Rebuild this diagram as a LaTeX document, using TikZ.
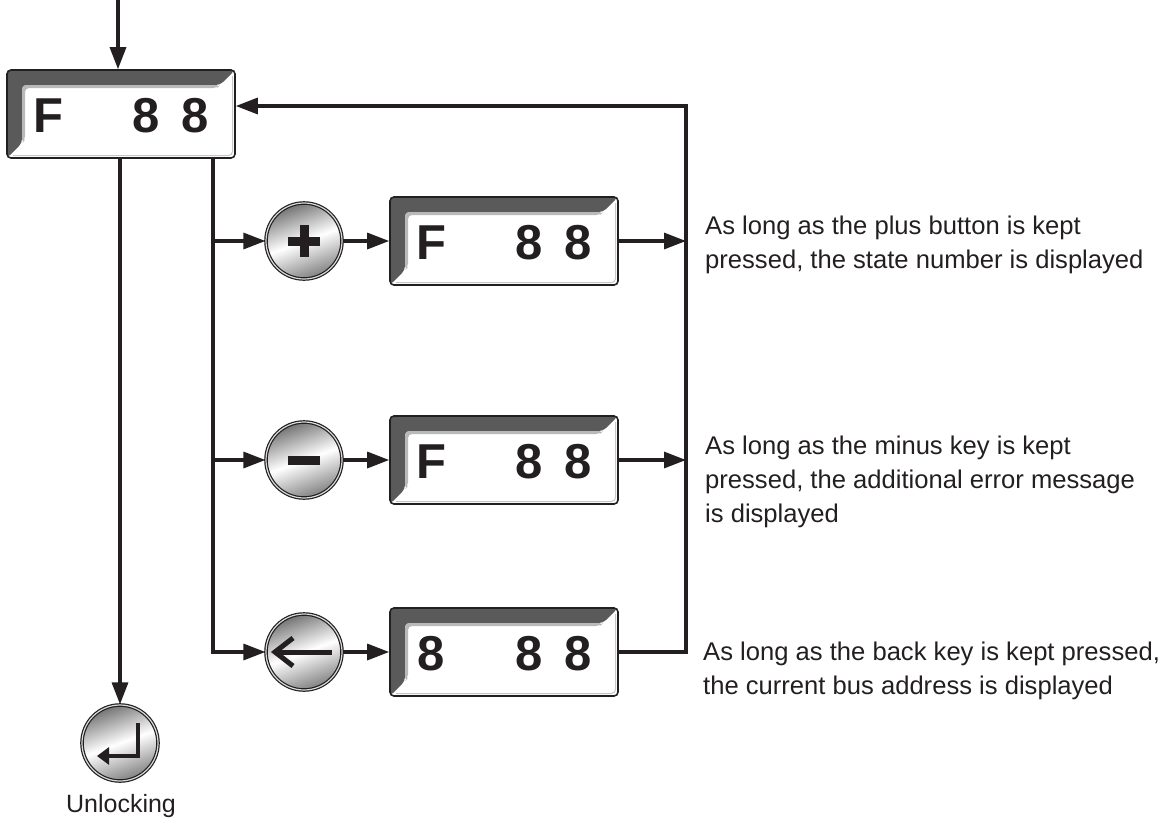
\documentclass[tikz,border=0pt]{standalone}
\usepackage{fontspec}
\setmainfont{Liberation Sans}
\usetikzlibrary{arrows.meta,calc}
\definecolor{ink}{HTML}{231F20}
\definecolor{bevel}{HTML}{5A5A5A}
\tikzset{
  conn/.style={line width=3.2pt, draw=ink, line join=miter},
  arr/.style={conn, -{Triangle[length=22pt,width=16pt]}},
  lbl/.style={font=\fontsize{25.6}{34}\selectfont, align=left, inner sep=0pt, text=ink},
  digit/.style={font=\fontsize{49}{49}\selectfont\bfseries, inner sep=0pt, anchor=base, text=ink},
  display/.style={rectangle, minimum width=228pt, minimum height=88pt, inner sep=0pt,
    rounded corners=4pt, fill=white, draw=ink, line width=1.6pt,
    path picture={
      \fill[bevel] (path picture bounding box.north west) -- (path picture bounding box.north east)
        -- ++(-15pt,-15pt) -- ($(path picture bounding box.north west)+(15pt,-15pt)$)
        -- ($(path picture bounding box.south west)+(15pt,15pt)$) -- (path picture bounding box.south west) -- cycle;
      \fill[gray!55] ($(path picture bounding box.north east)+(-15pt,-15pt)$) -- ++(-3pt,-3pt)
        -- ($(path picture bounding box.north west)+(18pt,-18pt)$)
        -- ($(path picture bounding box.south west)+(18pt,18pt)$) -- ++(-3pt,-3pt)
        -- ($(path picture bounding box.north west)+(15pt,-15pt)$) -- cycle;
      \draw[gray!45, line width=1pt] ($(path picture bounding box.north east)+(-2.5pt,-6pt)$)
        -- ($(path picture bounding box.south east)+(-2.5pt,2.5pt)$) -- ($(path picture bounding box.south west)+(6pt,2.5pt)$);
    }},
  button/.style={circle, minimum size=76pt, inner sep=0pt,
    shading=axis, top color=black!55, bottom color=black!50, middle color=white, shading angle=20,
    draw=ink, line width=1.2pt, double=gray!30, double distance=1.2pt},
}
\newcommand\lcdbox[4]{% name, x, y, first char
  \node[display] (#1) at (#2,#3) {};
  \node[digit] (#1-a) at ($(#1.center)+(-73pt,-18pt)$) {#4};
  \node[digit] (#1-b) at ($(#1.center)+(25.5pt,-18pt)$) {8};
  \node[digit] (#1-c) at ($(#1.center)+(74pt,-18pt)$) {8};
}
\begin{document}
\begin{tikzpicture}[x=1pt,y=-1pt]
\useasboundingbox (0,0) rectangle (1171,823);

% displays
\lcdbox{top}{121}{114}{F}
\lcdbox{dplus}{504}{241}{F}
\lcdbox{dminus}{504}{460}{F}
\lcdbox{dback}{504}{652}{8}

% buttons
\node[button] (kplus) at (304,241) {};
\draw[ink, line width=9pt] ($(kplus.center)+(-16pt,0)$) -- ($(kplus.center)+(16pt,0)$);
\draw[ink, line width=9pt] ($(kplus.center)+(0,-16pt)$) -- ($(kplus.center)+(0,16pt)$);

\node[button] (kminus) at (304,460) {};
\draw[ink, line width=9pt] ($(kminus.center)+(-16pt,0)$) -- ($(kminus.center)+(16pt,0)$);

\node[button] (kback) at (304,652) {};
\draw[ink, line width=5pt] ($(kback.center)+(28pt,0)$) -- ($(kback.center)+(-27pt,0)$);
\draw[ink, line width=5pt, line join=miter] ($(kback.center)+(-11pt,14pt)$) -- ($(kback.center)+(-29pt,0)$) -- ($(kback.center)+(-11pt,-14pt)$);

\node[button] (kenter) at (120,743) {};
\draw[ink, line width=4pt, -{Triangle[length=12pt,width=17pt]}, line join=miter]
  ($(kenter.center)+(18pt,20pt)$) -- ($(kenter.center)+(18pt,-13pt)$) -- ($(kenter.center)+(-23pt,-13pt)$);

% connectors
\coordinate (start) at (118,0);
\coordinate (bx) at (213,0);
\coordinate (rx) at (686,0);
\coordinate (ret) at (686,106);

\draw[arr] (start) -- (start |- top.north);
\draw[arr] (top.south -| kenter) -- (kenter.north);
\draw[arr] (top.south -| bx) |- (kback);
\draw[arr] (bx |- kplus) -- (kplus);
\draw[arr] (bx |- kminus) -- (kminus);
\draw[arr] (kplus) -- (dplus);
\draw[arr] (kminus) -- (dminus);
\draw[arr] (kback) -- (dback);
\draw[arr] (dplus.east) -- (dplus.east -| rx);
\draw[arr] (dminus.east) -- (dminus.east -| rx);
\draw[arr] (dback.east) -| (ret) -- (ret -| top.east);

% labels
\node[lbl, anchor=north west] (tplus) at (705,216) {As long as the plus button is kept\\pressed, the state number is displayed};
\node[lbl, anchor=north west] (tminus) at (705,436) {As long as the minus key is kept\\pressed, the additional error message\\is displayed};
\node[lbl, anchor=north west] (tback) at (703,642) {As long as the back key is kept pressed,\\the current bus address is displayed};
\node[lbl, anchor=base, font=\fontsize{25}{34}\selectfont] (tunlock) at (121,812) {Unlocking};
\end{tikzpicture}
\end{document}
